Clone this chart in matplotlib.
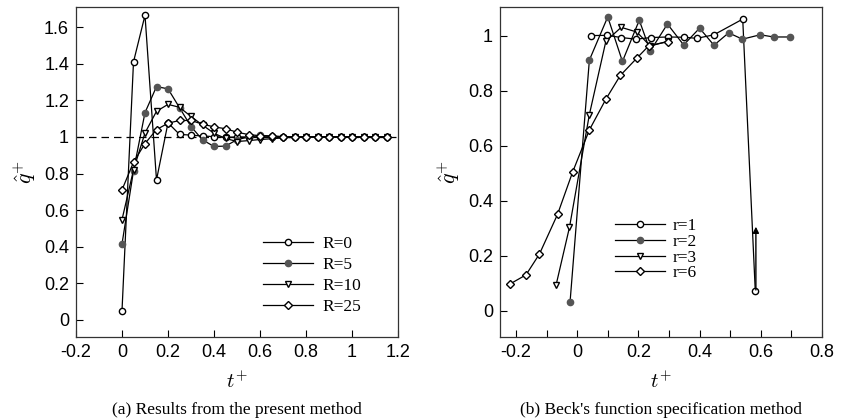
"""
Two-panel comparison of estimated heat flux q^+ versus t^+:
(a) present method with several regularisation values R,
(b) Beck's function specification method with r future steps.
"""

import matplotlib

matplotlib.use("Agg")

import matplotlib.pyplot as plt
from matplotlib.ticker import FuncFormatter, MultipleLocator

plt.rcParams["font.family"] = ["Liberation Sans", "DejaVu Sans"]
plt.rcParams["mathtext.fontset"] = "cm"
plt.rcParams["axes.unicode_minus"] = False

# ---- panel (a): present method, t = 0 .. 1.15 step 0.05 ----
t_a = [0.0, 0.05, 0.1, 0.15, 0.2, 0.25, 0.3, 0.35, 0.4, 0.45, 0.5, 0.55,
       0.6, 0.65, 0.7, 0.75, 0.8, 0.85, 0.9, 0.95, 1.0, 1.05, 1.1, 1.15]
q_R0 = [0.05, 1.41, 1.665, 0.765, 1.077, 1.014, 1.01, 1.005, 1.002, 0.998, 1.0, 1.0,
        1.0, 1.0, 1.0, 1.0, 1.0, 1.0, 1.0, 1.0, 1.0, 1.0, 1.0, 1.0]
q_R5 = [0.415, 0.815, 1.133, 1.275, 1.263, 1.16, 1.057, 0.984, 0.948, 0.95, 0.985, 1.0,
        1.008, 1.006, 1.002, 1.0, 1.0, 1.0, 1.0, 1.0, 1.0, 1.0, 1.0, 1.0]
q_R10 = [0.548, 0.82, 1.022, 1.14, 1.178, 1.162, 1.112, 1.065, 1.02, 0.992, 0.975, 0.98,
         0.986, 0.99, 0.995, 0.998, 1.0, 1.0, 1.0, 1.0, 1.0, 1.0, 1.0, 1.0]
q_R25 = [0.711, 0.862, 0.964, 1.04, 1.075, 1.09, 1.09, 1.07, 1.055, 1.045, 1.026, 1.013,
         1.007, 1.003, 1.001, 1.0, 1.0, 1.0, 1.0, 1.0, 1.0, 1.0, 1.0, 1.0]
REF_LEVEL = 1.0

# ---- panel (b): Beck's function specification method ----
t_r1 = [0.044, 0.097, 0.144, 0.192, 0.242, 0.298, 0.350, 0.391, 0.447, 0.541, 0.582]
q_r1 = [1.0, 1.001, 0.993, 0.987, 0.993, 0.995, 0.994, 0.99, 1.003, 1.06, 0.072]
t_r2 = [-0.023, 0.040, 0.100, 0.148, 0.203, 0.239, 0.295, 0.348, 0.400, 0.447,
        0.495, 0.540, 0.598, 0.642, 0.694]
q_r2 = [0.033, 0.911, 1.068, 0.906, 1.056, 0.944, 1.042, 0.966, 1.027, 0.965,
        1.01, 0.987, 1.003, 0.995, 0.995]
t_r3 = [-0.069, -0.025, 0.040, 0.094, 0.144, 0.195, 0.239, 0.298]
q_r3 = [0.092, 0.303, 0.713, 0.98, 1.03, 1.013, 0.962, 0.98]
t_r6 = [-0.219, -0.167, -0.123, -0.064, -0.015, 0.040, 0.094, 0.141, 0.195, 0.235, 0.298]
q_r6 = [0.097, 0.130, 0.206, 0.350, 0.503, 0.657, 0.769, 0.855, 0.918, 0.964, 0.978]
# the stray arrow rising from the last r=1 point
arrow_tail = (0.584, 0.075)
arrow_head = (0.584, 0.305)

GRAY = "#555555"
LW = 0.9
MS = 4.5

fig = plt.figure(figsize=(8.58, 4.20), dpi=100)
ax_a = fig.add_axes([76 / 858, 1 - 337 / 420, 322 / 858, 330 / 420])
ax_b = fig.add_axes([500 / 858, 1 - 337 / 420, 322 / 858, 330 / 420])

# panel (a)
ax_a.axhline(REF_LEVEL, color="black", lw=0.9, ls=(0, (6, 4)), zorder=1)
ax_a.plot(t_a, q_R0, "-o", color="black", mfc="white", mec="black", ms=MS, lw=LW, label="R=0")
ax_a.plot(t_a, q_R5, "-o", color="black", mfc=GRAY, mec=GRAY, ms=MS, lw=LW, label="R=5")
ax_a.plot(t_a, q_R10, "-v", color="black", mfc="white", mec="black", ms=MS, lw=LW, label="R=10")
ax_a.plot(t_a, q_R25, "-D", color="black", mfc="white", mec="black", ms=MS * 0.8, lw=LW, label="R=25")
ax_a.set_xlim(-0.2, 1.2)
ax_a.set_ylim(-0.093, 1.71)
ax_a.xaxis.set_major_locator(MultipleLocator(0.2))
ax_a.yaxis.set_major_locator(MultipleLocator(0.2))

# panel (b)
ax_b.plot(t_r1, q_r1, "-o", color="black", mfc="white", mec="black", ms=MS, lw=LW, label="r=1")
ax_b.plot(t_r2, q_r2, "-o", color="black", mfc=GRAY, mec=GRAY, ms=MS, lw=LW, label="r=2")
ax_b.plot(t_r3, q_r3, "-v", color="black", mfc="white", mec="black", ms=MS, lw=LW, label="r=3")
ax_b.plot(t_r6, q_r6, "-D", color="black", mfc="white", mec="black", ms=MS * 0.8, lw=LW, label="r=6")
ax_b.annotate("", xy=arrow_head, xytext=arrow_tail,
              arrowprops=dict(arrowstyle="-|>", color="black", lw=1.0,
                              mutation_scale=9, shrinkA=0, shrinkB=0))
ax_b.set_xlim(-0.252, 0.8)
ax_b.set_ylim(-0.096, 1.104)
ax_b.xaxis.set_major_locator(MultipleLocator(0.2))
ax_b.xaxis.set_minor_locator(MultipleLocator(0.1))
ax_b.yaxis.set_major_locator(MultipleLocator(0.2))

fmt = FuncFormatter(lambda v, _: "%g" % round(v, 6))
for ax in (ax_a, ax_b):
    ax.xaxis.set_major_formatter(fmt)
    ax.yaxis.set_major_formatter(fmt)
    ax.tick_params(which="both", direction="in", length=5, width=0.8,
                   top=False, right=False, labelsize=13, pad=5)
    for sp in ax.spines.values():
        sp.set_linewidth(0.9)
        sp.set_color("#333333")
    ax.set_xlabel(r"$t^{+}$", fontsize=15, labelpad=7)
    ax.set_ylabel(r"$\hat{q}^{+}$", fontsize=16, labelpad=4)

leg_font = {"family": "Liberation Serif", "size": 12.5}
ax_a.legend(loc="upper left", bbox_to_anchor=(0.559, 0.327), frameon=False,
            prop=leg_font, handlelength=2.9, handletextpad=0.55,
            labelspacing=0.28, borderaxespad=0)
ax_b.legend(loc="upper left", bbox_to_anchor=(0.335, 0.381), frameon=False,
            prop=leg_font, handlelength=2.9, handletextpad=0.45,
            labelspacing=-0.03, borderaxespad=0)

cap_font = dict(family="Liberation Serif", size=12.5, ha="center", va="center")
fig.text(237 / 858, 1 - 410 / 420, "(a) Results from the present method", **cap_font)
fig.text(661 / 858, 1 - 410 / 420, "(b) Beck's function specification method", **cap_font)

fig.savefig("out.png", dpi=100, facecolor="white")
plt.close(fig)
